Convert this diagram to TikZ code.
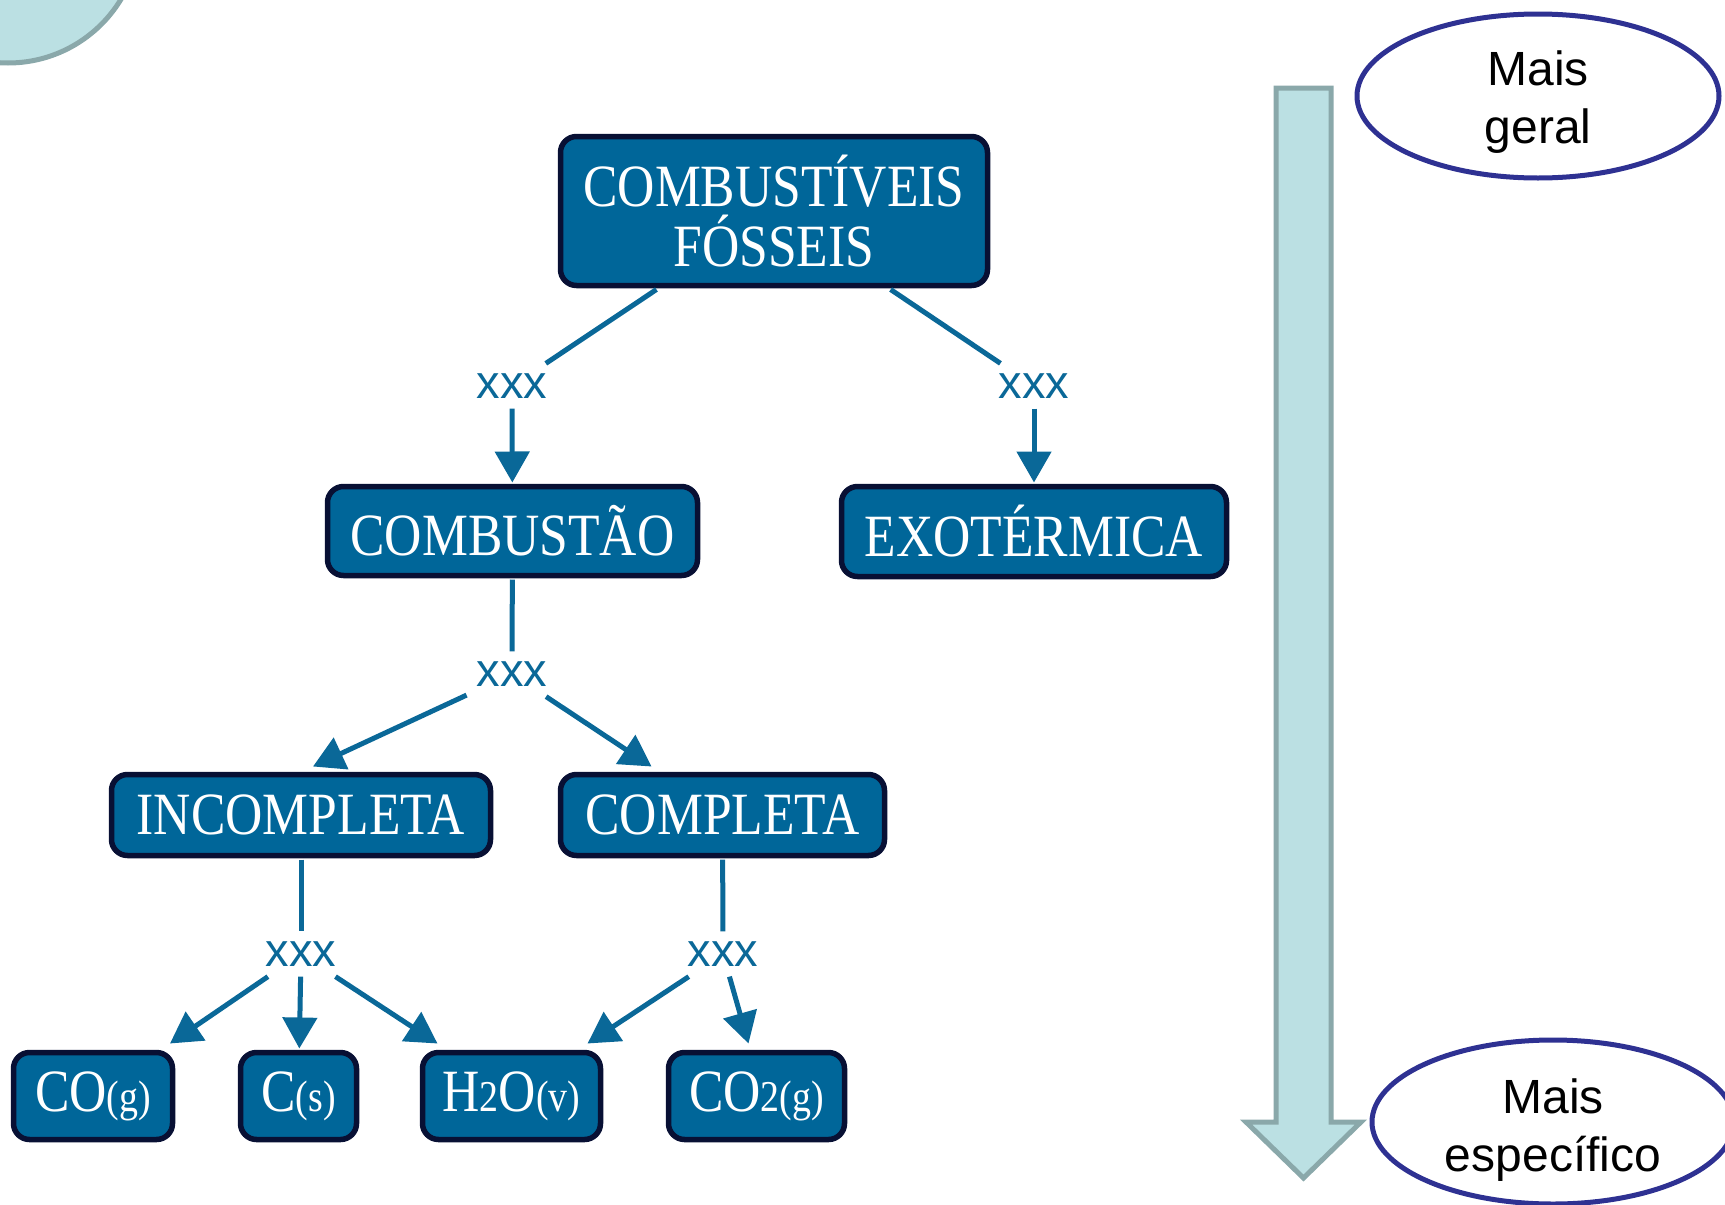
\documentclass[tikz,border=0pt]{standalone}
\usepackage{fontspec}
\usetikzlibrary{arrows.meta,shapes.geometric,calc}
\newfontfamily\boxfont[FakeStretch=0.86]{Liberation Serif}
\newfontfamily\labelfont{Liberation Sans}
\definecolor{boxfill}{RGB}{0,102,153}
\definecolor{boxline}{RGB}{8,16,52}
\definecolor{linkblue}{RGB}{10,104,152}
\definecolor{barfill}{RGB}{187,224,227}
\definecolor{barline}{RGB}{138,168,170}
\definecolor{ovalblue}{RGB}{46,49,146}
\newcommand{\subtxt}[1]{{\fontsize{44}{44}\selectfont #1}}
\tikzset{
  concept/.style={draw=boxline, fill=boxfill, line width=5.5pt, rounded corners=16pt,
    text=white, font=\boxfont\fontsize{60}{60}\selectfont, align=center,
    inner sep=0pt, outer sep=4pt},
  linklabel/.style={text=linkblue, font=\labelfont\fontsize{47}{47}\selectfont,
    inner sep=10pt},
  conn/.style={draw=linkblue, line width=5pt},
  arr/.style={conn, -{Triangle[length=31pt,width=34pt]}},
  sidenote/.style={ellipse, draw=ovalblue, line width=5pt, inner sep=0pt},
  sidetext/.style={font=\labelfont\fontsize{48}{58}\selectfont, align=center,
    inner sep=0pt},
}
\begin{document}
\begin{tikzpicture}[x=1pt,y=-1pt]
\useasboundingbox (0,0) rectangle (1725,1205);
\clip (0,0) rectangle (1725,1205);

% corner disc
\draw[fill=barfill, draw=barline, line width=5pt] (8,-69) circle (132pt);

% direction bar from general to specific
\draw[fill=barfill, draw=barline, line width=5pt, line join=miter]
  (1276,88) -- (1331,88) -- (1331,1122) -- (1361,1122) -- (1303.5,1178)
  -- (1246,1122) -- (1276,1122) -- cycle;

\node[sidenote, minimum width=362pt, minimum height=164pt,
  label={[sidetext, yshift=-6pt]center:{Mais\\geral}}] (geral) at (1538,96) {};
\node[sidenote, minimum width=362pt, minimum height=164pt,
  label={[sidetext, yshift=-8pt]center:{Mais\\específico}}] (especifico) at (1553,1122) {};

% concepts
\node[concept, minimum width=427pt, minimum height=149pt] (fosseis) at (774,211)
  {COMBUSTÍVEIS\\FÓSSEIS};
\node[concept, minimum width=370pt, minimum height=89pt] (combustao) at (512.5,531)
  {COMBUSTÃO};
\node[concept, minimum width=385pt, minimum height=90pt] (exo) at (1034,531.5)
  {EXOTÉRMICA};
\node[concept, minimum width=379pt, minimum height=81pt] (incompleta) at (301,815)
  {INCOMPLETA};
\node[concept, minimum width=324pt, minimum height=81pt] (completa) at (722.5,815)
  {COMPLETA};
\node[concept, minimum width=159pt, minimum height=87pt] (co) at (93,1096)
  {CO\subtxt{(g)}};
\node[concept, minimum width=116pt, minimum height=87pt] (cs) at (298.5,1096)
  {C\subtxt{(s)}};
\node[concept, minimum width=178pt, minimum height=87pt] (h2o) at (511.5,1096)
  {H\subtxt{2}O\subtxt{(v)}};
\node[concept, minimum width=176pt, minimum height=87pt] (co2) at (756.5,1096)
  {CO\subtxt{2(g)}};

% linking words
\node[linklabel] (l1) at (512,386) {xxx};
\node[linklabel] (l2) at (1034,386) {xxx};
\node[linklabel] (l3) at (512,674) {xxx};
\node[linklabel] (l4) at (301,954) {xxx};
\node[linklabel] (l5) at (723,954) {xxx};

% connectors
\draw[conn] (fosseis) -- (l1);
\draw[arr] (l1) -- (combustao);
\draw[conn] (fosseis) -- (l2);
\draw[arr] (l2) -- (exo);

\draw[conn] (combustao) -- (l3);
\draw[arr] (l3) -- ($(incompleta.north)+(12,-4)$);
\draw[arr] (l3) -- ($(completa.north)+(-71,-4)$);

\draw[conn] (incompleta) -- (l4);
\draw[arr] (l4) -- ($(co.north)+(77,-5)$);
\draw[arr] (l4) -- (cs);
\draw[arr] (l4) -- ($(h2o.north)+(-74,-5)$);

\draw[conn] (completa) -- (l5);
\draw[arr] (l5) -- ($(h2o.north)+(76,-5)$);
\draw[arr] (l5) -- ($(co2.north)+(-8,-5)$);
\end{tikzpicture}
\end{document}
